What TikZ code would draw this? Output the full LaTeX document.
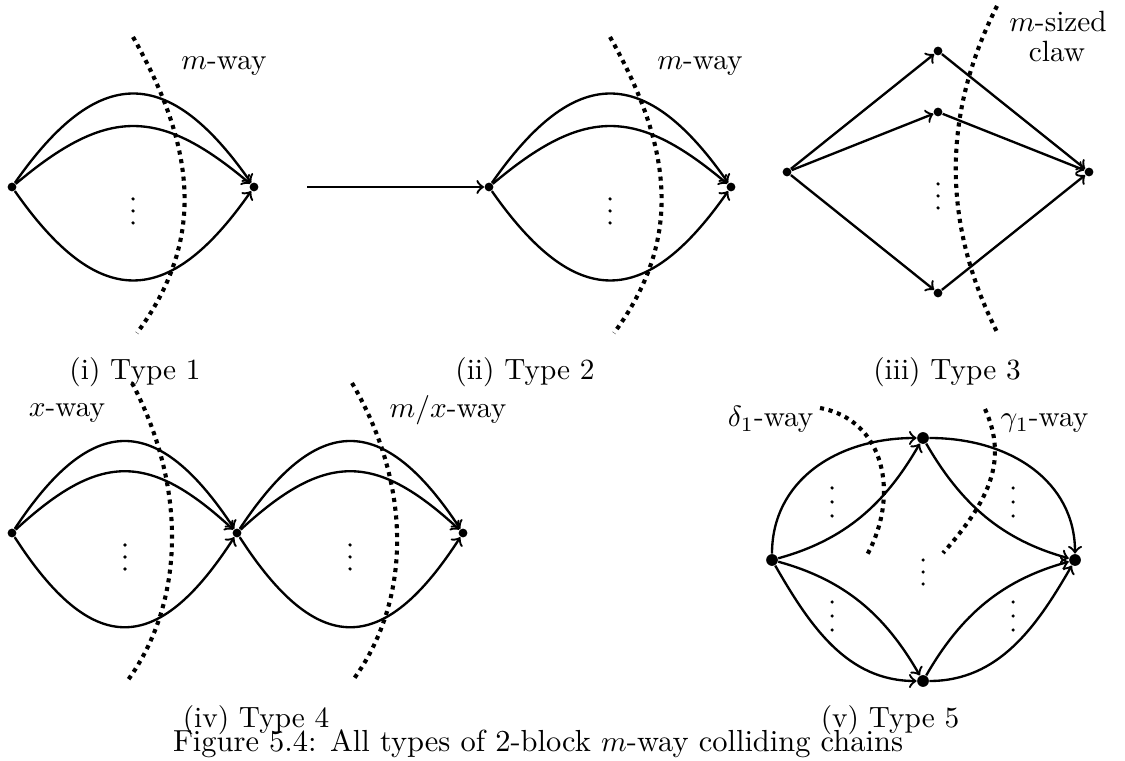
\documentclass[tikz,border=0pt]{standalone}
\begin{document}
\begin{tikzpicture}[x=0.3413pt,y=-0.3413pt,
  vtx/.style={circle,fill,inner sep=0pt,minimum size=3pt},
  bigvtx/.style={vtx,minimum size=4pt},
  edgearc/.style={line width=0.8pt,->},
  cutline/.style={line width=1.4pt,dash pattern=on 1.4pt off 1.6pt},
  lab/.style={font=\fontsize{10}{12}\selectfont,inner sep=0pt,anchor=base},
  figcap/.style={font=\fontsize{10.4}{12}\selectfont,inner sep=0pt,anchor=base}
]
\useasboundingbox (0,0) rectangle (1125,761);

% ---------- Type 1 ----------
\node[vtx] (L1) at (12,187) {};
\node[vtx] (R1) at (254,187) {};
\draw[edgearc] (L1) .. controls +(86,-123) and +(-86,-123) .. (R1);
\draw[edgearc] (L1) .. controls +(95,-80) and +(-95,-80) .. (R1);
\draw[edgearc] (L1) .. controls +(86,123) and +(-86,123) .. (R1);
\foreach \y in {199,211,223} \fill (133,\y) circle[radius=0.6pt];
\draw[cutline] (133,37) .. controls (197,150) and (205,241) .. (137,333);
\node[lab] (m1) at (224,70) {$m$-way};
\node[lab] (c1) at (135,380) {(i) Type 1};

% ---------- Type 2 ----------
\coordinate (S2) at (307,187);
\node[vtx] (L2) at (489,187) {};
\node[vtx] (R2) at (731,187) {};
\draw[edgearc] (S2) -- (L2);
\draw[edgearc] (L2) .. controls +(86,-123) and +(-86,-123) .. (R2);
\draw[edgearc] (L2) .. controls +(95,-80) and +(-95,-80) .. (R2);
\draw[edgearc] (L2) .. controls +(86,123) and +(-86,123) .. (R2);
\foreach \y in {199,211,223} \fill (610,\y) circle[radius=0.6pt];
\draw[cutline] (610,37) .. controls (674,150) and (682,241) .. (614,333);
\node[lab] (m2) at (700,70) {$m$-way};
\node[lab] (c2) at (525,380) {(ii) Type 2};

% ---------- Type 3 ----------
\node[vtx] (L3) at (787,172) {};
\node[vtx] (T3) at (938,51) {};
\node[vtx] (M3) at (938,112) {};
\node[vtx] (B3) at (938,293) {};
\node[vtx] (R3) at (1089,172) {};
\draw[edgearc] (L3) -- (T3);
\draw[edgearc] (L3) -- (M3);
\draw[edgearc] (L3) -- (B3);
\draw[edgearc] (T3) -- (R3);
\draw[edgearc] (M3) -- (R3);
\draw[edgearc] (B3) -- (R3);
\foreach \y in {184,196,208} \fill (938,\y) circle[radius=0.6pt];
\draw[cutline] (997,6) .. controls (942,115) and (942,223) .. (997,332);
\node[lab] (m3a) at (1058,32) {$m$-sized};
\node[lab] (m3b) at (1057,62) {claw};
\node[lab] (c3) at (947,380) {(iii) Type 3};

% ---------- Type 4 ----------
\node[vtx] (L4) at (12,533) {};
\node[vtx] (M4) at (237,533) {};
\node[vtx] (R4) at (463,533) {};
\draw[edgearc] (L4) .. controls +(80,-121) and +(-80,-121) .. (M4);
\draw[edgearc] (L4) .. controls +(88,-81) and +(-88,-81) .. (M4);
\draw[edgearc] (L4) .. controls +(80,124) and +(-80,124) .. (M4);
\draw[edgearc] (M4) .. controls +(80,-121) and +(-80,-121) .. (R4);
\draw[edgearc] (M4) .. controls +(88,-81) and +(-88,-81) .. (R4);
\draw[edgearc] (M4) .. controls +(80,124) and +(-80,124) .. (R4);
\foreach \y in {545,557,569} {\fill (125,\y) circle[radius=0.6pt]; \fill (350,\y) circle[radius=0.6pt];}
\draw[cutline] (132,383) .. controls (186,485) and (186,600) .. (128,680);
\draw[cutline] (352,383) .. controls (412,485) and (412,600) .. (353,680);
\node[lab] (x4) at (67,417) {$x$-way};
\node[lab] (mx4) at (448,418) {$m/x$-way};
\node[lab] (c4) at (256,728) {(iv) Type 4};

% ---------- Type 5 ----------
\node[bigvtx] (L5) at (772,560) {};
\node[bigvtx] (T5) at (923,438) {};
\node[bigvtx] (R5) at (1075,560) {};
\node[bigvtx] (B5) at (923,681) {};
\draw[edgearc] (L5) .. controls +(0,-78) and +(-88,0) .. (T5);
\draw[edgearc] (L5) .. controls +(73,-20) and +(-38,66) .. (T5);
\draw[edgearc] (L5) .. controls +(38,66) and +(-76,0) .. (B5);
\draw[edgearc] (L5) .. controls +(73,20) and +(-38,-66) .. (B5);
\draw[edgearc] (T5) .. controls +(88,0) and +(0,-78) .. (R5);
\draw[edgearc] (T5) .. controls +(38,66) and +(-73,-20) .. (R5);
\draw[edgearc] (B5) .. controls +(76,0) and +(-38,66) .. (R5);
\draw[edgearc] (B5) .. controls +(38,-66) and +(-73,20) .. (R5);
\foreach \y in {488,502,516,602,616,630} {\fill (832,\y) circle[radius=0.6pt]; \fill (1013,\y) circle[radius=0.6pt];}
\foreach \y in {560,572,584} \fill (923,\y) circle[radius=0.6pt];
\draw[cutline] (820,408) .. controls (885,420) and (900,495) .. (867,555);
\draw[cutline] (985,409) .. controls (1008,460) and (990,500) .. (943,553);
\node[lab,anchor=base east] (d5) at (814,427) {$\delta_1$-way};
\node[lab,anchor=base west] (g5) at (1000,427) {$\gamma_1$-way};
\node[lab] (c5) at (890,728) {(v) Type 5};

% ---------- caption ----------
\node[figcap] (fig) at (538,752) {Figure 5.4: All types of 2-block $m$-way colliding chains};
\end{tikzpicture}
\end{document}
